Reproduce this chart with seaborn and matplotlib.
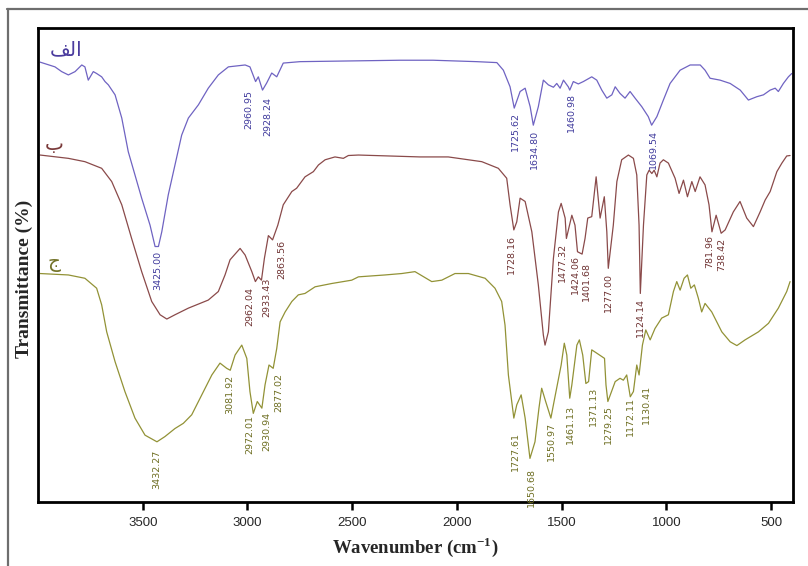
import matplotlib
matplotlib.use("Agg")
import matplotlib.pyplot as plt
from matplotlib.lines import Line2D
import seaborn as sns
import pandas as pd

# ---------------- data ----------------
A_wn = [3990,3919,3887,3855,3823,3791,3776,3760,3736,3720,3696,3680,3664,3632,3600,3569,3537,3505,3465,3441,3425,3409,3378,3346,3314,3282,3234,3187,3139,3091,3011,2988,2961,2948,2928,2908,2884,2860,2829,2749,2271,2114,1905,1809,1778,1746,1726,1698,1674,1650,1635,1611,1587,1563,1539,1523,1507,1491,1468,1461,1444,1420,1396,1356,1332,1308,1284,1260,1244,1221,1197,1173,1149,1117,1086,1070,1045,1014,982,934,886,838,815,791,743,695,647,608,568,536,504,480,465,441,417,401]
A_T = [92.8,91.8,90.8,90.1,90.8,92.2,91.8,89.0,90.8,90.4,89.7,88.7,88.0,85.9,81.0,73.9,69.0,64.1,58.4,53.9,53.9,57.0,64.8,71.1,77.4,81.0,83.8,87.3,90.1,91.8,92.2,91.8,88.7,89.7,86.9,88.4,90.5,89.7,92.6,92.9,93.2,93.2,92.9,92.7,91.1,87.6,83.1,86.6,87.3,83.4,79.5,83.4,89.0,88.0,87.5,88.3,87.3,89.0,87.6,86.9,88.7,88.2,88.7,89.7,89.0,86.9,85.2,85.9,87.6,86.2,85.2,86.6,85.2,83.4,81.3,79.5,81.3,84.8,88.3,91.1,92.2,92.2,91.1,89.4,89.0,88.3,86.9,84.8,85.5,85.9,86.9,87.3,86.6,88.3,89.7,90.4]

B_wn = [3990,3855,3776,3696,3648,3600,3553,3505,3457,3417,3385,3346,3282,3187,3139,3107,3083,3035,3011,2979,2962,2948,2933,2919,2900,2880,2855,2829,2788,2765,2725,2685,2661,2629,2582,2542,2518,2470,2176,2041,1881,1802,1762,1746,1728,1714,1698,1674,1642,1611,1587,1579,1563,1539,1515,1502,1483,1477,1451,1436,1424,1402,1388,1375,1356,1335,1316,1296,1284,1277,1253,1236,1213,1181,1157,1141,1130,1124,1109,1093,1082,1069,1058,1045,1030,1014,990,958,939,918,899,878,862,839,815,796,782,762,738,719,680,648,616,584,552,528,504,472,448,425,409]
B_T = [73.2,72.5,71.8,70.4,67.6,62.7,55.6,48.6,42.3,39.5,38.6,39.5,40.9,42.6,44.4,47.9,51.1,53.5,52.1,48.6,46.5,47.5,46.8,51.4,56.2,55.3,58.4,62.7,65.5,66.2,68.6,69.7,71.1,72.2,72.8,72.5,73.1,73.2,72.8,72.8,71.8,70.4,68.3,62.7,57.4,59.1,64.1,63.4,57.0,45.8,35.2,33.1,35.9,51.4,61.2,63.0,59.9,55.6,60.5,58.4,52.8,52.3,55.6,59.9,60.2,68.6,59.9,64.4,57.0,49.3,58.4,67.6,72.2,73.2,72.5,69.0,58.4,44.0,58.4,69.0,70.0,69.3,70.0,68.6,71.5,72.2,71.5,68.3,65.1,67.9,64.4,67.6,65.5,68.6,66.9,62.7,57.0,60.5,56.7,57.4,61.2,63.4,59.9,58.1,61.2,63.7,65.5,69.7,71.5,73.0,73.1]

C_wn = [3990,3855,3776,3720,3696,3672,3632,3585,3537,3489,3432,3394,3346,3306,3266,3218,3170,3131,3099,3082,3059,3027,3003,2988,2972,2953,2931,2916,2897,2877,2860,2844,2820,2788,2757,2725,2677,2597,2502,2470,2343,2263,2200,2120,2072,2009,1945,1865,1818,1786,1770,1754,1728,1714,1693,1674,1651,1627,1608,1595,1576,1551,1539,1502,1487,1475,1461,1451,1427,1415,1399,1384,1371,1356,1332,1295,1288,1279,1244,1221,1205,1189,1172,1157,1141,1130,1114,1098,1077,1054,1022,990,966,950,934,915,899,883,866,847,831,815,783,735,695,663,624,560,512,465,425,409]
C_T = [48.2,47.9,47.2,45.1,41.6,35.9,29.6,23.3,17.7,14.1,12.7,13.8,15.5,16.6,18.4,22.6,26.8,29.3,28.2,27.8,31.0,33.1,30.3,23.3,18.7,21.2,19.8,24.7,28.9,28.2,32.4,38.0,40.1,42.3,43.7,44.0,45.4,46.1,46.8,47.5,47.9,48.2,48.6,46.5,46.8,48.2,48.2,47.2,45.1,42.3,37.3,26.8,17.7,20.5,22.6,17.7,9.2,12.7,19.8,24.0,21.2,17.7,20.5,28.9,33.5,31.0,21.9,24.7,33.1,34.2,31.0,25.0,25.4,32.1,31.4,30.3,24.7,21.2,25.4,26.1,25.7,26.8,22.2,23.3,28.9,26.8,33.1,36.3,34.2,36.6,38.8,39.5,44.4,46.5,44.7,47.2,47.9,45.1,45.8,43.0,40.1,41.9,40.1,35.9,33.8,33.0,34.2,35.9,37.7,40.9,44.4,46.5]

# peak labels (text) and where their text is placed
A_labels = ["3425.00", "2960.95", "2928.24", "1725.62", "1634.80", "1460.98", "1069.54"]
A_lab_wn = [3427, 2992, 2903, 1722, 1630, 1451, 1062]
A_lab_T = [52.9, 86.9, 85.4, 82.3, 78.5, 86.3, 78.5]

B_labels = ["2962.04", "2933.43", "2863.56", "1728.16", "1477.32", "1424.06", "1401.68", "1277.00", "1124.14", "781.96", "738.42"]
B_lab_wn = [2988, 2908, 2836, 1738, 1494, 1436, 1380, 1277, 1122, 794, 735]
B_lab_T = [45.4, 47.3, 55.3, 56.3, 54.6, 52.1, 50.7, 48.3, 43.0, 56.3, 55.7]

C_labels = ["3432.27", "3081.92", "2972.01", "2930.94", "2877.02", "1727.61", "1650.68", "1550.97", "1461.13", "1371.13", "1279.25", "1172.11", "1130.41"]
C_lab_wn = [3433, 3083, 2991, 2908, 2852, 1722, 1646, 1547, 1459, 1348, 1277, 1173, 1093]
C_lab_T = [11.0, 26.8, 18.4, 19.1, 27.2, 14.8, 7.2, 16.9, 20.5, 24.3, 20.5, 22.2, 24.7]

series_names = ["\uFED2\uFEDF\uFE8D", "\u0628", "\u062C"]   # الف ، ب ، ج (shaped forms)
x_ticks = [3500, 3000, 2500, 2000, 1500, 1000, 500]

# ---------------- style ----------------
sns.set_theme(style="white")
plt.rcParams["font.family"] = ["Liberation Sans", "DejaVu Sans"]
plt.rcParams["mathtext.fontset"] = "custom"
plt.rcParams["mathtext.rm"] = "Liberation Serif"
plt.rcParams["mathtext.bf"] = "Liberation Serif:bold"

line_colors = ["#6f63c2", "#8a4a4a", "#929236"]
text_colors = ["#3f3a9c", "#6e3232", "#6e6e22"]
name_colors = ["#4b3c9e", "#7a3a3a", "#74742a"]

fig = plt.figure(figsize=(8.08, 5.66), dpi=100)
ax = fig.add_axes([38 / 808, 1 - 502 / 566, (793 - 38) / 808, (502 - 28) / 566])

frames = []
for name, wn, T in zip(["A", "B", "C"], [A_wn, B_wn, C_wn], [A_T, B_T, C_T]):
    frames.append(pd.DataFrame({"wn": wn, "T": T, "s": name}))
df = pd.concat(frames, ignore_index=True)

sns.lineplot(data=df, x="wn", y="T", hue="s", palette=line_colors, estimator=None,
             linewidth=0.9, legend=False, ax=ax)

ax.set_xlim(4000, 395)
ax.set_ylim(0, 100)
ax.set_xticks(x_ticks)
ax.set_xticklabels([str(t) for t in x_ticks])
ax.set_yticks([])
ax.tick_params(axis="x", direction="out", length=6, width=1.8, color="black",
               labelsize=9.5, pad=5, bottom=True)
for sp in ax.spines.values():
    sp.set_linewidth(2.0)
    sp.set_color("black")

narrow = ["Liberation Sans Narrow", "DejaVu Sans"]
for labels, lwn, lT, col in [(A_labels, A_lab_wn, A_lab_T, text_colors[0]),
                             (B_labels, B_lab_wn, B_lab_T, text_colors[1]),
                             (C_labels, C_lab_wn, C_lab_T, text_colors[2])]:
    for s, xw, yt in zip(labels, lwn, lT):
        ax.text(xw, yt, s, rotation=90, ha="center", va="top", fontsize=6.8,
                color=col, family=narrow)

# series names
name_pos = [(3866, 95.4), (3924, 75.5), (3924, 50.6)]
for nm, (xw, yt), col in zip(series_names, name_pos, name_colors):
    ax.text(xw, yt, nm, ha="center", va="center", fontsize=14.5, color=col,
            family=["DejaVu Sans"])

ax.set_xlabel(r"Wavenumber (cm$^{\mathbf{-1}}$)", fontsize=13.5, fontweight="bold",
              family=["Liberation Serif"], labelpad=4)
ax.set_ylabel("Transmittance (%)", fontsize=14, fontweight="bold",
              family=["Liberation Serif"])
ax.yaxis.set_label_coords(-0.007, 0.47)

# outer border lines (cropped frame)
fig.add_artist(Line2D([7 / 808, 1], [1 - 8.5 / 566, 1 - 8.5 / 566], color="#6e6e6e",
                      linewidth=1.6, transform=fig.transFigure))
fig.add_artist(Line2D([7.5 / 808, 7.5 / 808], [0, 1 - 8.5 / 566], color="#6e6e6e",
                      linewidth=1.6, transform=fig.transFigure))

fig.savefig("out.png", dpi=100)
